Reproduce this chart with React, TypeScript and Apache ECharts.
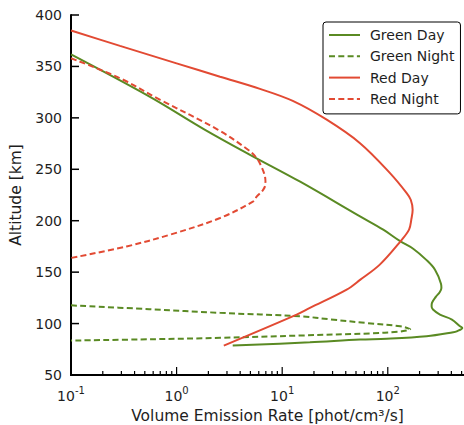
import React, { useEffect, useRef } from 'react';
import * as echarts from 'echarts';

// ---- data (altitude in km, volume emission rate in phot/cm^3/s) ----
const seriesNames = ['Green Day', 'Green Night', 'Red Day', 'Red Night'];

const greenDayAlt = [361.8, 320.5, 288.4, 264.1, 237.9, 204.2, 191.3, 180.1, 172.8, 161.7, 152.4, 138.8, 134.5, 130.5, 126.2, 120.1, 116.8, 113.6, 108.7, 103.9, 97.4, 95.8, 92.5, 91.6, 87.7, 85.2, 84.5, 81.8, 78.6];
const greenDayRate = [0.1, 0.56, 1.86, 4.96, 14.8, 54.6, 90.6, 131, 174, 233, 280, 319, 322, 310, 286, 262, 260, 268, 312, 405, 483, 508, 449, 417, 233, 97.7, 54.6, 18.3, 3.4];

const greenNightAlt = [117.7, 114, 110.4, 107, 104, 100.5, 97.4, 95.5, 94.5, 93.3, 92, 90.5, 88.4, 86.1, 84.8, 83.5];
const greenNightRate = [0.1, 0.55, 2.6, 15, 29, 63, 131, 155, 163, 150, 125, 70, 15, 2.6, 0.6, 0.1];

const redDayAlt = [385, 370, 353, 340, 328.2, 316.5, 298.2, 275.4, 246.3, 226.9, 220.4, 210.7, 201, 191.3, 180, 157.3, 142.7, 133, 115.2, 108.7, 78.6];
const redDayRate = [0.1, 0.291, 1.0, 2.58, 6.16, 12.6, 26.4, 54.6, 105, 151, 165, 172, 167, 159, 132, 84, 55, 40.8, 18.3, 13.7, 2.8];

const redNightAlt = [358, 338.6, 317.5, 288.4, 268.8, 260.9, 252.4, 243, 236, 230, 223.6, 218.8, 202.6, 186.4, 175, 163.8];
const redNightRate = [0.1, 0.29, 0.7, 2.47, 4.78, 5.73, 6.37, 6.87, 6.95, 6.6, 5.75, 5.32, 2.58, 0.866, 0.336, 0.1];

const xMin = 0.1;
const xMax = 527;
const yTicks = [50, 100, 150, 200, 250, 300, 350, 400];
const xMajorExponents = [-1, 0, 1, 2];
const xMinorMultipliers = [2, 3, 4, 5, 6, 7, 8, 9];

const GREEN = '#5a8a23';
const RED = '#e24a33';
const TEXT = '#1e1e1e';
const FONT = 'DejaVu Sans';

function pairs(rate: number[], alt: number[]) {
  return rate.map((r, i) => [r, alt[i]]);
}

export default function App() {
  const ref = useRef<HTMLDivElement>(null);
  useEffect(() => {
    if (!ref.current) return;
    const chart = echarts.init(ref.current, undefined, { renderer: 'svg' });
    const lx = Math.log10;

    // tick values on the log axis (in data units): [value, yMin, tickLength]
    const xTickData: number[][] = [];
    xMajorExponents.forEach((e) => {
      const major = Math.pow(10, e);
      xTickData.push([major, yTicks[0], 8]);
      xMinorMultipliers.forEach((m) => {
        const v = m * major;
        if (v < xMax) xTickData.push([v, yTicks[0], 4]);
      });
    });
    const yTickData = yTicks.map((t) => [xMin, t, 8]);

    const majorFormatter = (v: number) => {
      const e = Math.round(v);
      if (Math.abs(v - e) > 1e-6) return '';
      return `{b|10}{s|${e}}`;
    };
    const lineSeries = (name: string, rate: number[], alt: number[], color: string, dashed: boolean) => ({
      name,
      type: 'line',
      xAxisIndex: 0,
      yAxisIndex: 0,
      data: pairs(rate, alt),
      symbol: 'none',
      smooth: 0.35,
      clip: true,
      lineStyle: { color, width: 2, type: dashed ? [6, 3.3] : 'solid' },
      itemStyle: { color },
    });
    const tickSeries = (data: number[][], vertical: boolean, width: number) => ({
      type: 'custom',
      xAxisIndex: 0,
      yAxisIndex: 0,
      silent: true,
      clip: false,
      z: 5,
      data,
      encode: { x: 0, y: 1 },
      renderItem: (params: any, api: any) => {
        const p = api.coord([api.value(0), api.value(1)]);
        const len = api.value(2);
        return {
          type: 'line',
          shape: vertical
            ? { x1: p[0], y1: p[1], x2: p[0], y2: p[1] - len }
            : { x1: p[0], y1: p[1], x2: p[0] + len, y2: p[1] },
          style: { stroke: '#000', lineWidth: width },
        };
      },
    });
    const spine = { show: true, onZero: false, lineStyle: { color: '#000', width: 2 } };
    const option: any = {
      animation: false,
      textStyle: { fontFamily: FONT },
      grid: { left: 71, right: 0, top: 15, bottom: 50, containLabel: false, outerBoundsMode: 'none' },
      legend: {
        data: seriesNames,
        orient: 'vertical',
        left: 323,
        top: 22,
        padding: [6, 6, 8, 5],
        itemWidth: 31,
        itemHeight: 14,
        itemGap: 7.3,
        borderColor: '#000',
        borderWidth: 1,
        borderRadius: 3,
        backgroundColor: '#fff',
        itemStyle: { opacity: 0 },
        textStyle: { fontSize: 14, color: TEXT, fontFamily: FONT, padding: [0, 0, 0, 5] },
      },
      xAxis: [
        {
          type: 'log',
          logBase: 10,
          min: xMin,
          max: xMax,
          position: 'bottom',
          axisLine: spine,
          axisTick: { show: false },
          axisLabel: { show: false },
          splitLine: { show: false },
          minorTick: { show: false },
          name: 'Volume Emission Rate [phot/cm³/s]',
          nameLocation: 'middle',
          nameGap: 33,
          nameTextStyle: { fontSize: 15.5, color: TEXT, fontFamily: FONT },
        },
        {
          // tick labels of the decades
          type: 'value',
          min: -1,
          max: lx(xMax),
          interval: 1,
          position: 'bottom',
          axisLine: spine,
          axisTick: { show: false },
          axisLabel: {
            show: true,
            margin: 10,
            customValues: xMajorExponents,
            formatter: majorFormatter,
            rich: {
              b: { fontSize: 14, color: TEXT, fontFamily: FONT, lineHeight: 18, verticalAlign: 'bottom' },
              s: { fontSize: 10, color: TEXT, fontFamily: FONT, lineHeight: 10, verticalAlign: 'top' },
            },
          },
          splitLine: { show: false },
        },
      ],
      yAxis: [
        {
          type: 'value',
          min: yTicks[0],
          max: yTicks[yTicks.length - 1],
          interval: 50,
          axisLine: spine,
          axisTick: { show: false },
          axisLabel: { fontSize: 14, color: TEXT, fontFamily: FONT, margin: 9 },
          splitLine: { show: false },
          name: 'Altitude [km]',
          nameLocation: 'middle',
          nameGap: 43,
          nameRotate: 90,
          nameTextStyle: { fontSize: 15.5, color: TEXT, fontFamily: FONT },
        },
      ],
      series: [
        lineSeries(seriesNames[0], greenDayRate, greenDayAlt, GREEN, false),
        lineSeries(seriesNames[1], greenNightRate, greenNightAlt, GREEN, true),
        lineSeries(seriesNames[2], redDayRate, redDayAlt, RED, false),
        lineSeries(seriesNames[3], redNightRate, redNightAlt, RED, true),
        tickSeries(xTickData, true, 1.2),
        tickSeries(yTickData, false, 1.5),
      ],
    };
    chart.setOption(option);
    return () => chart.dispose();
  }, []);
  return (
    <div
      ref={ref}
      style={{ position: 'absolute', left: 0, top: 0, width: 464, height: 425, background: '#fff' }}
    />
  );
}
